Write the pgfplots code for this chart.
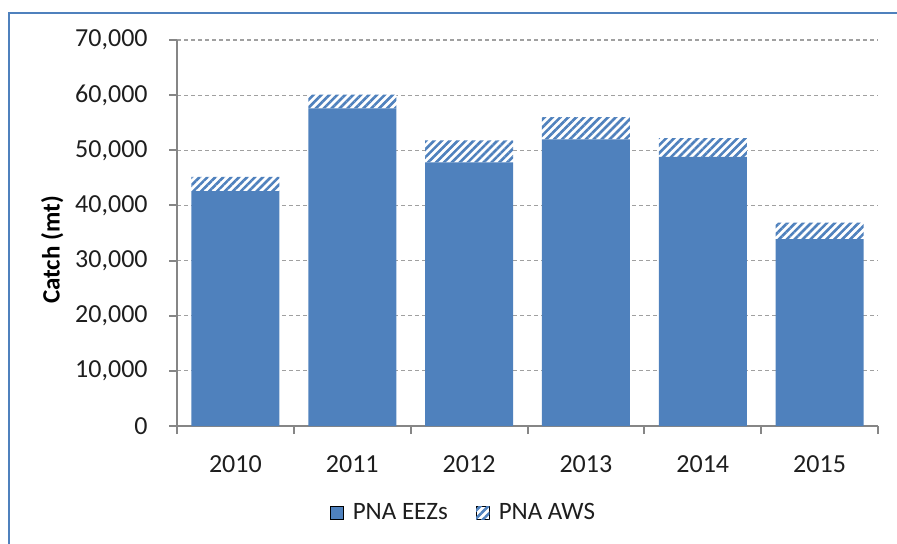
\documentclass[12pt,border=0pt]{standalone}
\usepackage{fontspec}
\setmainfont{Carlito}
\usepackage{pgfplots}
\pgfplotsset{compat=1.18}
\usetikzlibrary{patterns.meta}
\definecolor{barblue}{RGB}{79,129,189}
\definecolor{axgray}{RGB}{134,134,134}
\definecolor{gridgray}{RGB}{160,160,160}
\definecolor{txt}{RGB}{30,30,30}
\begin{document}
\begin{tikzpicture}
\path[use as bounding box] (0,0) rectangle (448.5pt,271.5pt);
\draw[barblue, line width=1pt] (4.5pt,-5pt) -- (4.5pt,265pt) -- (460pt,265pt);
\begin{axis}[
  scale only axis, width=350.5pt, height=193pt,
  at={(88.5pt,58.5pt)}, anchor=south west,
  ybar stacked, bar width=44pt,
  xmin=-0.5, xmax=5.5, ymin=0, ymax=70000,
  xtick={0,1,2,3,4,5}, xticklabels={2010,2011,2012,2013,2014,2015},
  minor xtick={-0.5,0.5,1.5,2.5,3.5,4.5,5.5},
  ytick={0,10000,20000,30000,40000,50000,60000,70000},
  scaled y ticks=false,
  /pgf/number format/.cd, 1000 sep={,}, assume math mode=true, /pgfplots/.cd,
  axis x line*=bottom, axis y line*=left,
  axis line style={axgray, line width=1pt, -},
  tick align=outside,
  major tick length=4pt, minor tick length=4pt,
  major x tick style={draw=none},
  minor x tick style={axgray, line width=1pt},
  y tick style={axgray, line width=1pt},
  ymajorgrids, grid style={gridgray, dash pattern=on 2pt off 1.5pt, line width=0.6pt},
  tick label style={text=txt, font=\fontsize{13}{15}\selectfont},
  yticklabel style={anchor=east, xshift=-6.5pt},
  xticklabel style={anchor=north, yshift=-6.5pt},
  ylabel={Catch (mt)},
  ylabel style={at={(axis description cs:-0.178,0.456)}, anchor=center, rotate=0, font=\fontsize{12.5}{15}\selectfont\bfseries, text=black},
  legend columns=2,
  legend style={draw=none, at={(axis description cs:0.41,-0.2254)}, anchor=center, text=txt,
    font=\fontsize{12.5}{15}\selectfont,
    /tikz/every odd column/.append style={column sep=2.5pt},
    /tikz/every even column/.append style={column sep=12pt}},
  legend image code/.code={\draw[#1] (0pt,-3.3pt) rectangle (6.6pt,3.3pt);},
]
\addplot[fill=barblue, draw=none] coordinates {(0,42600) (1,57600) (2,47800) (3,52000) (4,48800) (5,33900)};
\addplot[fill=white, draw=none, postaction={pattern={Lines[angle=45,distance=2.8pt,line width=1.3pt]}, pattern color=barblue}] coordinates {(0,2600) (1,2500) (2,4000) (3,4000) (4,3400) (5,3000)};
\legend{PNA EEZs, PNA AWS}
\end{axis}
\end{tikzpicture}
\end{document}
